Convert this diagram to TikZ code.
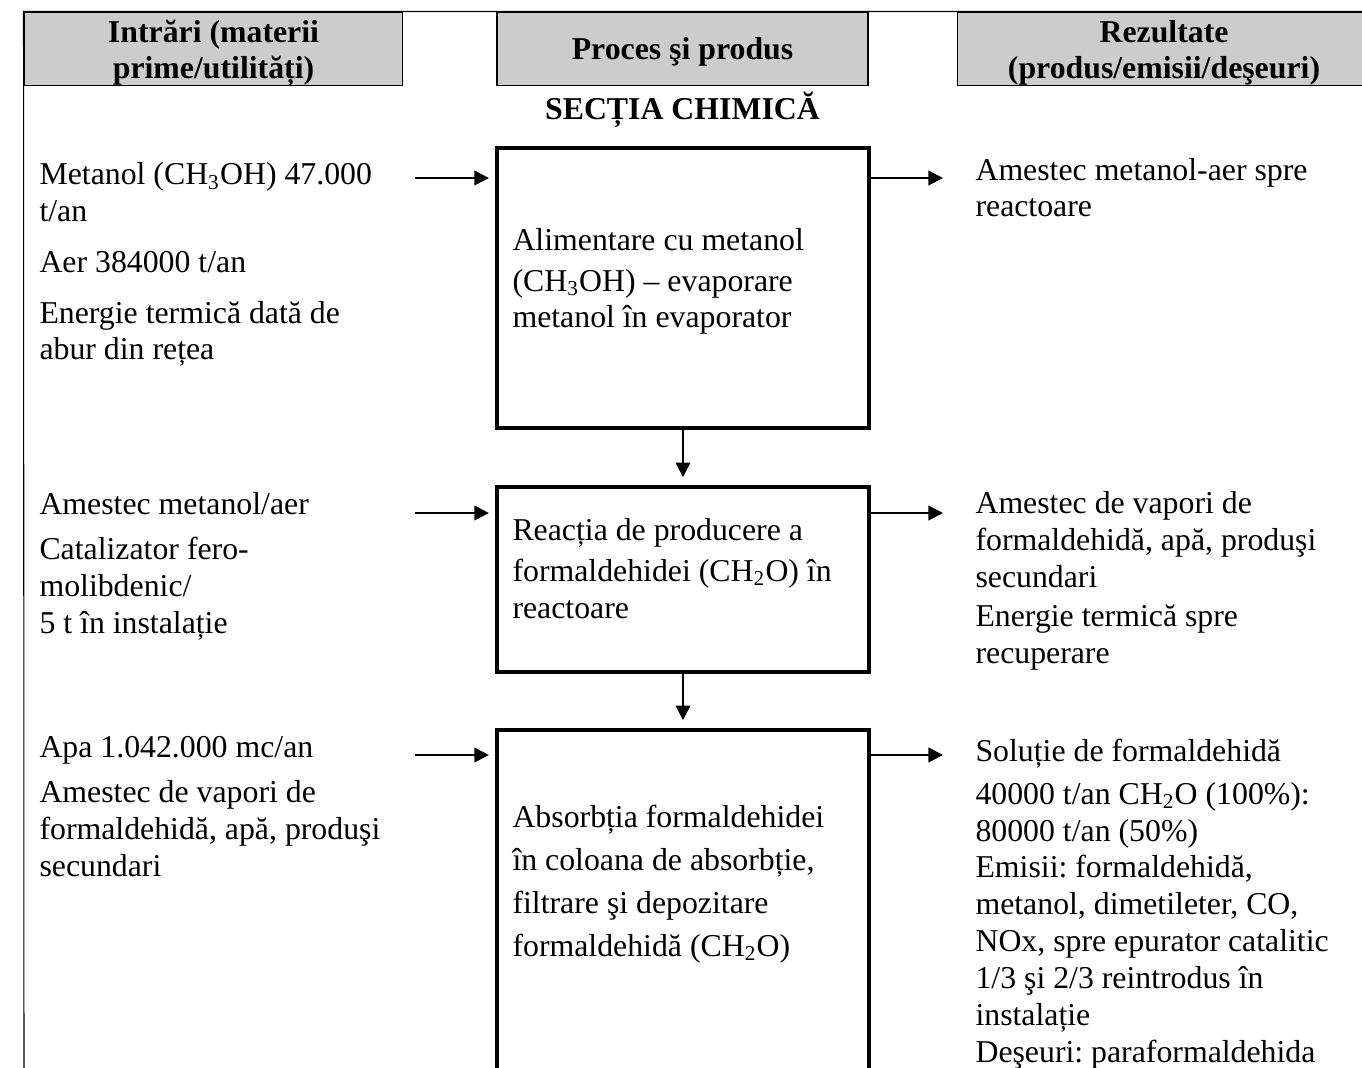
\documentclass[tikz,border=0pt]{standalone}
\usepackage{fontspec}
\setmainfont{Liberation Serif}
\usetikzlibrary{arrows.meta}
\frenchspacing

\tikzset{
	headbox/.style={draw, line width=0.4pt, fill=gray!40, align=center, inner sep=0pt, minimum height=27.9pt, text depth=0pt, font=\bfseries\fontsize{12pt}{13.3pt}\selectfont},
	procbox/.style={draw, line width=1.5pt, minimum width=140.4pt, inner sep=0pt},
	txt/.style={anchor=base west, align=left, inner sep=0pt, font=\fontsize{12pt}{13.9pt}\selectfont},
	flow/.style={->, line width=0.8pt},
}

\begin{document}
\begin{tikzpicture}[x=0.3774pt, y=-0.3774pt, >={Triangle[length=5.5pt, width=5.5pt]}]
	%\draw[help lines, step=100] (0,0) grid (1362,1068);
	\useasboundingbox (0,0) rectangle (1362,1068);
	\clip (0,0) rectangle (1362,1068);
	\node[headbox, minimum width=143pt, text height=21.9pt] (hin) at (213.5,49) {Intrări (materii\\prime/utilități)};
	\node[headbox, minimum width=140pt, text height=8.3pt] (hproc) at (682.5,49) {Proces şi produs};
	\node[headbox, minimum width=156pt, text height=21.9pt] (hout) at (1164,49) {Rezultate\\(produs/emisii/deşeuri)};
	\coordinate (bottomleft) at (24,1080);
	\draw[line width=0.4pt] (hout.north east) -- (hin.north west) -- (bottomleft);
	\node[anchor=base, inner sep=0pt, font=\bfseries\fontsize{12pt}{13.9pt}\selectfont] (section) at (682.5,120) {SECȚIA CHIMICĂ};

	% base anchor = baseline of the last line
	\node[procbox, minimum height=105.7pt] (evap) at (683,288) {};
	\node[procbox, minimum height=69.8pt] (react) at (683,579.5) {};
	\node[procbox, minimum height=139.6pt] (absorb) at (683,915) {};
	\node[txt] (evaptxt) at (512,328) {Alimentare cu metanol\\[1.3pt](CH\textsubscript{3}OH) – evaporare\\metanol în evaporator};
	\node[txt] (reacttxt) at (512,618) {Reacția de producere a\\[1.3pt]formaldehidei (CH\textsubscript{2}O) în\\reactoare};
	\node[txt] (abstxt) at (512,956) {Absorbția formaldehidei\\[2.3pt]în coloana de absorbție,\\[2.3pt]filtrare şi depozitare\\[2.3pt]formaldehidă (CH\textsubscript{2}O)};

	\node[txt] (in1) at (39,360) {Metanol (CH\textsubscript{3}OH) 47.000\\t/an\\[5.3pt]Aer 384000 t/an\\[5.3pt]Energie termică dată de\\abur din rețea};
	\node[txt] (in2) at (39,633) {Amestec metanol/aer\\[3pt]Catalizator fero-\\molibdenic/\\5 t în instalație};
	\node[txt] (in3) at (39,876) {Apa 1.042.000 mc/an\\[3pt]Amestec de vapori de\\formaldehidă, apă, produşi\\secundari};

	\node[txt] (out1) at (975,217) {Amestec metanol-aer spre\\reactoare};
	\node[txt] (out2) at (975,663) {Amestec de vapori de\\formaldehidă, apă, produşi\\secundari\\[0.8pt]Energie termică spre\\recuperare};
	\node[txt] (out3) at (975,1062) {Soluție de formaldehidă\\[2.3pt]40000 t/an CH\textsubscript{2}O (100\%):\\80000 t/an (50\%)\\Emisii: formaldehidă,\\metanol, dimetileter, CO,\\NOx, spre epurator catalitic\\1/3 şi 2/3 reintrodus în\\instalație\\Deşeuri: paraformaldehida};

	\coordinate (src1) at (415,178);
	\coordinate (src2) at (415,513);
	\coordinate (src3) at (415,755);
	\coordinate (dst1) at (943,178);
	\coordinate (dst2) at (943,513);
	\coordinate (dst3) at (943,755);
	\draw[flow, shorten >=2.3pt] (src1) -- (src1 -| evap.west);
	\draw[flow, shorten >=2.3pt] (src2) -- (src2 -| react.west);
	\draw[flow, shorten >=2.3pt] (src3) -- (src3 -| absorb.west);
	\draw[flow] (evap.east |- dst1) -- (dst1);
	\draw[flow] (react.east |- dst2) -- (dst2);
	\draw[flow] (absorb.east |- dst3) -- (dst3);
	\draw[flow, shorten >=3pt] (evap) -- (react);
	\draw[flow, shorten >=3pt] (react) -- (absorb);
\end{tikzpicture}
\end{document}
